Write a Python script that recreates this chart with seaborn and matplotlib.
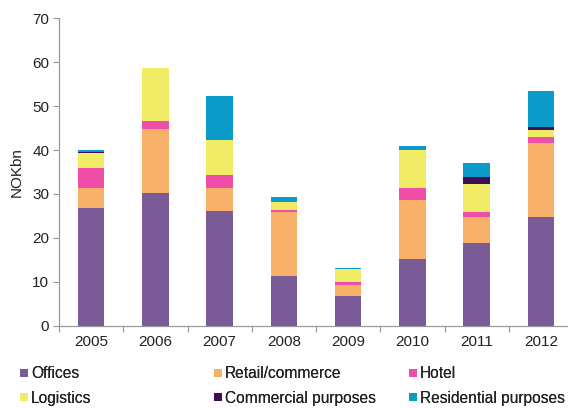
import matplotlib
matplotlib.use("Agg")
import matplotlib.pyplot as plt
import seaborn as sns
import numpy as np
import pandas as pd
from matplotlib.patches import Patch

years = ["2005", "2006", "2007", "2008", "2009", "2010", "2011", "2012"]
offices = [26.9, 30.3, 26.2, 11.3, 6.8, 15.3, 18.9, 24.8]
retail = [4.4, 14.5, 5.1, 14.7, 2.5, 13.3, 5.9, 16.9]
hotel = [4.5, 1.7, 3.0, 0.3, 0.6, 2.7, 1.0, 1.2]
logistics = [3.6, 12.1, 8.1, 1.8, 2.9, 8.6, 6.5, 1.6]
commercial = [0.2, 0.0, 0.0, 0.0, 0.0, 0.0, 1.5, 0.8]
residential = [0.4, 0.0, 9.8, 1.3, 0.4, 1.0, 3.3, 8.2]

series_names = ["Offices", "Retail/commerce", "Hotel", "Logistics",
                "Commercial purposes", "Residential purposes"]
series_values = [offices, retail, hotel, logistics, commercial, residential]
colors = ["#7B5A98", "#F7B169", "#EE4DA8", "#F0EC66", "#3B0E58", "#0A9BC8"]

sns.set_theme(style="white")
plt.rcParams["font.family"] = ["Liberation Sans", "DejaVu Sans"]
plt.rcParams["text.color"] = "#222222"

W, H = 568, 409
fig = plt.figure(figsize=(W / 100, H / 100), dpi=100)
ax = fig.add_axes([59 / W, 83.3 / H, 514 / W, 307.4 / H])

# stacked bars: draw cumulative totals from the top segment down
cum = np.cumsum(np.array(series_values), axis=0)
for i in range(len(series_names) - 1, -1, -1):
    df = pd.DataFrame({"year": years, "value": cum[i]})
    sns.barplot(data=df, x="year", y="value", color=colors[i], width=0.41,
                saturation=1, ax=ax, linewidth=0)

ax.set_ylim(0, 70)
ax.set_xlim(-0.5, len(years) - 0.5)
ax.set_yticks(range(0, 71, 10))
ax.set_ylabel("NOKbn", fontsize=11, labelpad=6, color="#222222")
ax.set_xlabel("")
ax.tick_params(axis="y", labelsize=11, length=4, width=0.8, color="#999999",
               left=True, pad=3, labelcolor="#222222")
ax.tick_params(axis="x", labelsize=11, length=0, pad=7, labelcolor="#222222")
# tick marks on the category boundaries
ax.set_xticks(np.arange(-0.5, len(years), 1), minor=True)
ax.tick_params(axis="x", which="minor", length=4, width=0.8, color="#999999", bottom=True)
for side in ("top", "right"):
    ax.spines[side].set_visible(False)
for side in ("left", "bottom"):
    ax.spines[side].set_color("#999999")
    ax.spines[side].set_linewidth(0.9)

# legend: one entry per slot, three columns by two rows
col_x = [20, 214, 409]
row_y = [374, 398]
for i, (name, c) in enumerate(zip(series_names, colors)):
    x0 = col_x[i % 3] / W
    y0 = 1 - row_y[i // 3] / H
    leg = fig.legend([Patch(facecolor=c, edgecolor="none")], [name],
                     loc="center left", bbox_to_anchor=(x0, y0),
                     frameon=False, fontsize=11.2, handlelength=0.5,
                     handleheight=0.5, handletextpad=0.2,
                     borderaxespad=0, borderpad=0)
    fig.add_artist(leg)

fig.savefig("out.png", dpi=100)
